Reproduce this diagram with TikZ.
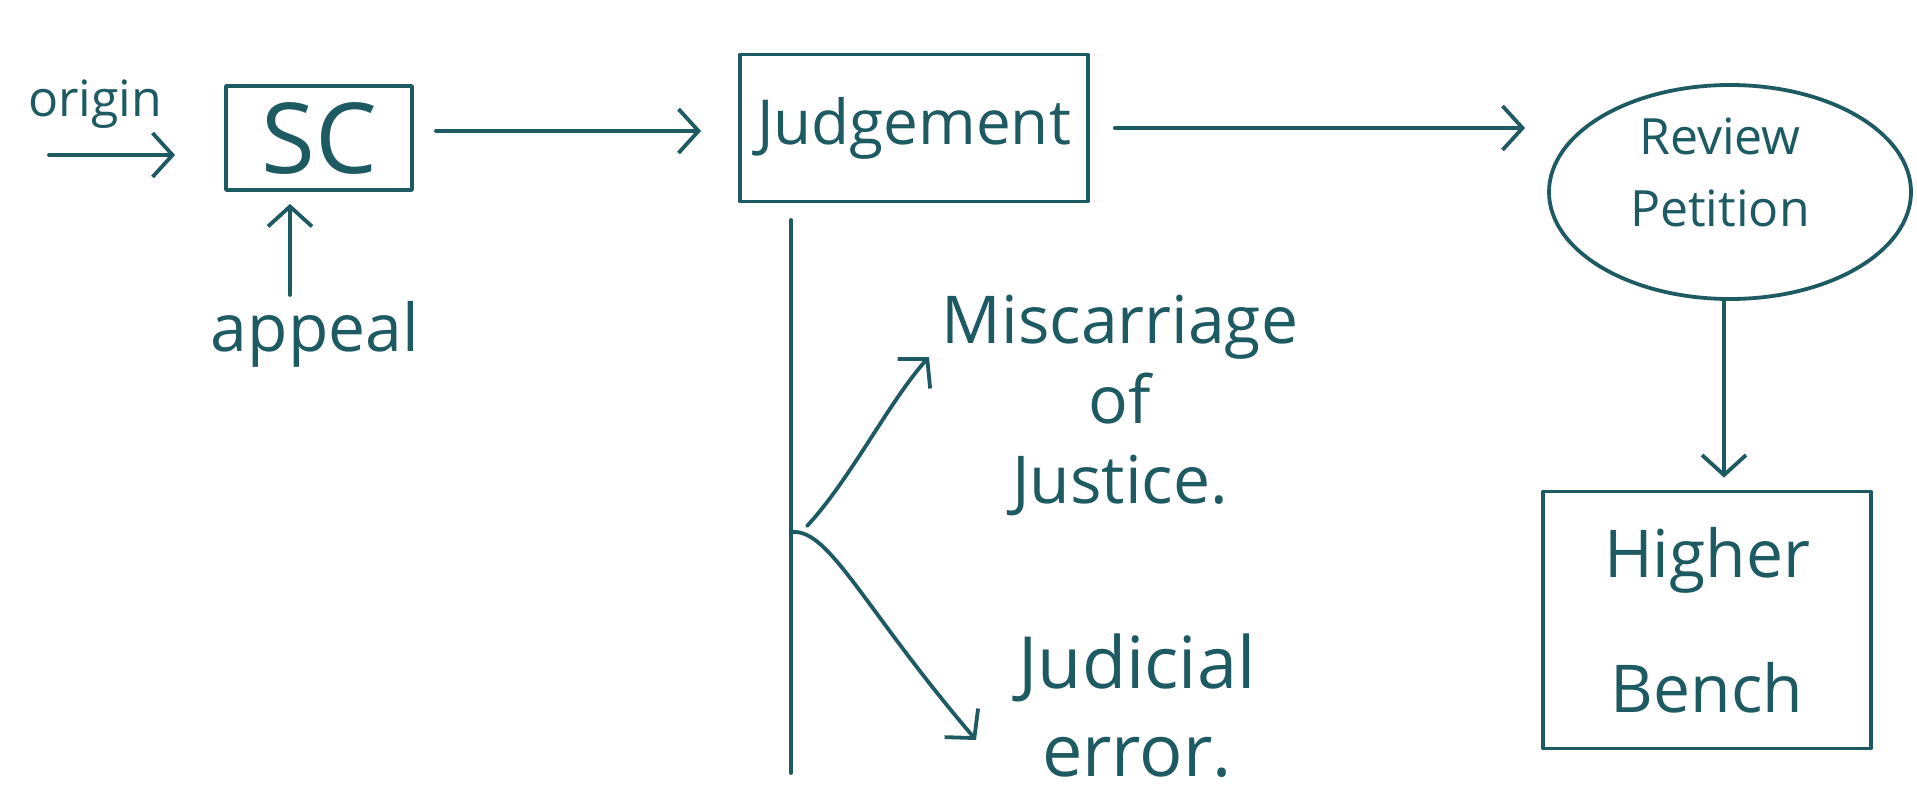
\documentclass[tikz,border=0pt]{standalone}
\usepackage{fontspec}
\setmainfont{Open Sans}
\usetikzlibrary{arrows.meta,shapes.geometric}
\definecolor{ink}{HTML}{1E5A62}
\begin{document}
\begin{tikzpicture}[x=1pt,y=-1pt,
  pen/.style={draw=ink,line width=3.8pt,line cap=round,line join=round},
  arr/.style={pen,-{Straight Barb[length=20pt,width=44pt,line width=3.8pt]}},
  lbl/.style={text=ink,inner sep=0pt,align=center},
  box/.style={pen,rectangle,text=ink,inner sep=0pt,align=center}]
\useasboundingbox (0,0) rectangle (1917,795);
% nodes
\node[box,minimum width=186pt,minimum height=104pt,font=\fontsize{98}{100}\selectfont] (sc) at (319,138) {SC};
\node[box,minimum width=348pt,minimum height=147pt,font=\fontsize{62}{64}\selectfont] (jud) at (914,128) {Judgement};
\node[pen,ellipse,minimum width=362pt,minimum height=214pt,inner sep=0pt] (rev) at (1730,192) {};
\node[lbl,font=\fontsize{50}{72}\selectfont] (revt) at (1720,172) {Review\\Petition};
\node[box,minimum width=328pt,minimum height=257pt,font=\fontsize{66}{135}\selectfont] (hb) at (1707,620) {Higher\\Bench};
\node[lbl,font=\fontsize{50}{50}\selectfont] (origin) at (95,104) {origin};
\node[lbl,font=\fontsize{66}{66}\selectfont] (app) at (315,334) {appeal};
\node[lbl,font=\fontsize{66}{80}\selectfont] (mis) at (1120,405) {Miscarriage\\of\\Justice.};
\node[lbl,font=\fontsize{72}{88}\selectfont] (jerr) at (1137,706) {Judicial\\error.};
% connectors
\coordinate (o0) at (49,155);
\draw[arr,shorten >=49pt] (o0) -- (o0 -| sc.west);
\coordinate (a0) at (290,295);
\draw[arr,shorten >=12pt] (a0) -- (a0 |- sc.south);
\draw[arr,shorten <=22pt,shorten >=37pt] (sc.east) ++(0,-7) coordinate (s1) -- (s1 -| jud.west);
\draw[arr,shorten <=25pt,shorten >=22pt] (jud.east) -- (jud.east -| rev.west);
\draw[arr,shorten >=12pt] ([xshift=-6pt]rev.south) -- ([xshift=-6pt]rev.south |- hb.north);
\coordinate (v0) at (791,220);
\coordinate (v1) at (791,773);
\draw[pen] (v0) -- (v1);
\coordinate (br) at (793,532);
\coordinate (up) at (929,357);
\coordinate (dn) at (976,740);
\draw[arr] (br) ++(14,-6) .. controls (850,480) and (890,400) .. (up);
\draw[arr] (br) .. controls (830,530) and (865,610) .. (dn);
\end{tikzpicture}
\end{document}
